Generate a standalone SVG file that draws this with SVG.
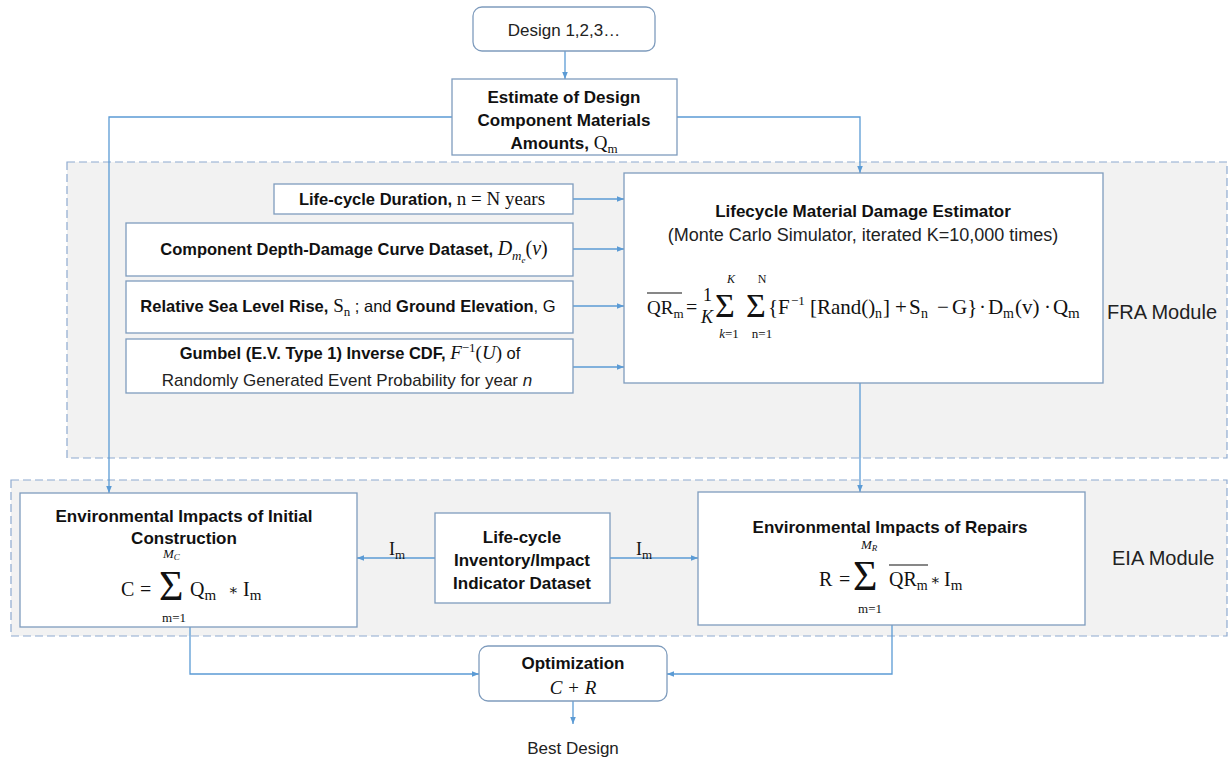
<svg xmlns="http://www.w3.org/2000/svg" width="1228" height="758" viewBox="0 0 1228 758">
<defs>
<marker id="ah" viewBox="0 0 10 10" refX="10" refY="5" markerWidth="7" markerHeight="7" orient="auto" markerUnits="userSpaceOnUse"><path d="M0,1 L10,5 L0,9 z" fill="#5b9bd5"/></marker>
</defs>
<style>
.region{fill:#f2f2f2;stroke:#8eaad0;stroke-width:1.2;stroke-dasharray:8 4}
.box{fill:#ffffff;stroke:#7f9cbd;stroke-width:1.3}
.con{fill:none;stroke:#5b9bd5;stroke-width:1.3;marker-end:url(#ah)}
.b{font-family:"Liberation Sans",Arial,sans-serif;font-weight:bold;fill:#111}
.r{font-family:"Liberation Sans",Arial,sans-serif;fill:#222}
.m{font-family:"Liberation Serif","Times New Roman","DejaVu Serif",serif;font-weight:normal;font-style:normal;fill:#111}
.mi{font-family:"Liberation Serif","Times New Roman",serif;font-style:italic;font-weight:normal;fill:#111}
.n{font-weight:normal}
.lbl{font-family:"Liberation Sans",Arial,sans-serif;fill:#222}
.c{text-anchor:middle}
</style>
<rect id="fra-region" class="region" x="67" y="162" width="1160" height="296"/>
<rect id="eia-region" class="region" x="11" y="480" width="1216" height="156"/>
<text class="lbl" x="1107" y="319" style="font-size:20px">FRA Module</text>
<text class="lbl" x="1112" y="565" style="font-size:20px">EIA Module</text>

<g id="connectors">
<path class="con" d="M565,51 V79"/>
<path class="con" d="M452,117 H109 V493"/>
<path class="con" d="M677,117 H860 V173"/>
<path class="con" d="M573,199 H624"/>
<path class="con" d="M573,249 H624"/>
<path class="con" d="M573,306 H624"/>
<path class="con" d="M573,367 H624"/>
<path class="con" d="M860,383 V492"/>
<path class="con" d="M435,558 H357"/>
<path class="con" d="M610,558 H698"/>
<path class="con" d="M190,627 V674 H479"/>
<path class="con" d="M892,625 V674 H667"/>
<path class="con" d="M573,701 V724"/>
<text class="m" x="389" y="555" style="font-size:18px">I<tspan dy="4" style="font-size:13px">m</tspan></text>
<text class="m" x="636" y="555" style="font-size:18px">I<tspan dy="4" style="font-size:13px">m</tspan></text>
</g>

<g id="design">
<rect class="box" x="473" y="7" width="182" height="44" rx="9"/>
<text class="r c" x="564" y="36" style="font-size:17px">Design 1,2,3…</text>
</g>

<g id="estimate">
<rect class="box" x="452" y="79" width="225" height="76"/>
<text class="b c" x="564" y="103" style="font-size:17px">Estimate of Design</text>
<text class="b c" x="564" y="126" style="font-size:17px">Component Materials</text>
<text class="b c" x="564" y="149" style="font-size:17px">Amounts,<tspan class="m" style="font-size:19px"> Q</tspan><tspan class="m" style="font-size:13px" dy="4">m</tspan></text>
</g>

<g id="duration">
<rect class="box" x="274" y="184" width="299" height="30"/>
<text class="b c" x="422" y="205" style="font-size:16.5px">Life-cycle Duration,<tspan class="m" style="font-size:19px"> n = N years</tspan></text>
</g>

<g id="depth-damage">
<rect class="box" x="126" y="223" width="447" height="53"/>
<text class="b c" x="354" y="255" style="font-size:16.5px">Component Depth-Damage Curve Dataset, <tspan class="mi" style="font-size:20px">D</tspan><tspan class="mi" style="font-size:13px" dy="5">m</tspan><tspan class="mi" style="font-size:9px" dy="3">e</tspan><tspan class="m" style="font-size:20px" dy="-8">(</tspan><tspan class="mi" style="font-size:20px">v</tspan><tspan class="m" style="font-size:20px">)</tspan></text>
</g>

<g id="sea-level">
<rect class="box" x="126" y="281" width="447" height="52"/>
<text class="b c" x="348" y="312" style="font-size:16.5px">Relative Sea Level Rise,<tspan class="m" style="font-size:19px"> S</tspan><tspan class="m" style="font-size:13px" dy="4">n</tspan><tspan class="n" dy="-4"> ; and </tspan>Ground Elevation<tspan class="n">, G</tspan></text>
</g>

<g id="gumbel">
<rect class="box" x="126" y="339" width="447" height="54"/>
<text class="b c" x="350" y="359" style="font-size:16.5px">Gumbel (E.V. Type 1) Inverse CDF, <tspan class="mi" style="font-size:19px">F</tspan><tspan class="m" style="font-size:13px" dy="-7">−1</tspan><tspan class="m" style="font-size:19px" dy="7">(</tspan><tspan class="mi" style="font-size:19px">U</tspan><tspan class="m" style="font-size:19px">)</tspan><tspan class="n">  of</tspan></text>
<text class="r c" x="347" y="386" style="font-size:17px">Randomly Generated Event Probability for year <tspan font-style="italic">n</tspan></text>
</g>

<g id="estimator">
<rect class="box" x="624" y="173" width="479" height="210"/>
<text class="b c" x="863" y="217" style="font-size:17px">Lifecycle Material Damage Estimator</text>
<text class="r c" x="863" y="241" style="font-size:18px">(Monte Carlo Simulator, iterated K=10,000 times)</text>
<line x1="647" y1="293" x2="682" y2="293" stroke="#111" stroke-width="1.2"/>
<text class="m" x="647" y="314" style="font-size:19px">QR<tspan style="font-size:13px" dy="4">m</tspan></text>
<text class="m" x="686" y="314" style="font-size:20px">=</text>
<text class="m" x="703" y="301" style="font-size:18px">1</text>
<text class="mi" x="701" y="323" style="font-size:18px">K</text>
<text class="m" x="715" y="317" style="font-size:34px">Σ</text>
<text class="mi c" x="731" y="283" style="font-size:12px">K</text>
<text class="m c" x="729" y="338" style="font-size:13px"><tspan font-style="italic">k</tspan>=1</text>
<text class="m" x="746" y="317" style="font-size:34px">Σ</text>
<text class="m c" x="762" y="283" style="font-size:12px">N</text>
<text class="m c" x="762" y="338" style="font-size:13px">n=1</text>
<text class="m" y="314" style="font-size:21px"><tspan x="768">{F</tspan><tspan x="791" dy="-9" style="font-size:13px">−1</tspan><tspan x="810" dy="9">[Rand()</tspan><tspan x="875" dy="4" style="font-size:14px">n</tspan><tspan x="883" dy="-4">]</tspan><tspan x="895">+</tspan><tspan x="909">S</tspan><tspan x="921" dy="4" style="font-size:14px">n</tspan><tspan x="937" dy="-4">−</tspan><tspan x="952">G}</tspan><tspan x="979">·</tspan><tspan x="988">D</tspan><tspan x="1003" dy="4" style="font-size:14px">m</tspan><tspan x="1015" dy="-4">(v)</tspan><tspan x="1044">·</tspan><tspan x="1053">Q</tspan><tspan x="1068" dy="4" style="font-size:15px">m</tspan></text>
</g>

<g id="initial-construction">
<rect class="box" x="20" y="493" width="337" height="134"/>
<text class="b c" x="184" y="522" style="font-size:17px">Environmental Impacts of Initial</text>
<text class="b c" x="184" y="544" style="font-size:17px">Construction</text>
<text class="m" x="121" y="596" style="font-size:20px">C</text>
<text class="m" x="140" y="596" style="font-size:20px">=</text>
<text class="m" x="159" y="600" style="font-size:42px">Σ</text>
<text class="mi" x="163" y="558" style="font-size:13px">M<tspan style="font-size:9px" dy="2">C</tspan></text>
<text class="m c" x="174" y="622" style="font-size:13px">m=1</text>
<text class="m" x="190" y="596" style="font-size:20px">Q<tspan style="font-size:15px" dy="4">m</tspan></text>
<text class="m" x="228" y="595" style="font-size:15px">∗</text>
<text class="m" x="243" y="596" style="font-size:20px">I<tspan style="font-size:15px" dy="4">m</tspan></text>
</g>

<g id="inventory">
<rect class="box" x="435" y="513" width="175" height="90"/>
<text class="b c" x="522" y="543" style="font-size:17px">Life-cycle</text>
<text class="b c" x="522" y="566" style="font-size:17px">Inventory/Impact</text>
<text class="b c" x="522" y="589" style="font-size:17px">Indicator Dataset</text>
</g>

<g id="repairs">
<rect class="box" x="698" y="492" width="387" height="133"/>
<text class="b c" x="890" y="533" style="font-size:17px">Environmental Impacts of Repairs</text>
<text class="m" x="819" y="586" style="font-size:20px">R</text>
<text class="m" x="839" y="586" style="font-size:20px">=</text>
<text class="m" x="853" y="590" style="font-size:42px">Σ</text>
<text class="mi" x="861" y="549" style="font-size:13px">M<tspan style="font-size:9px" dy="2">R</tspan></text>
<text class="m c" x="870" y="613" style="font-size:13px">m=1</text>
<line x1="889" y1="565" x2="928" y2="565" stroke="#111" stroke-width="1.2"/>
<text class="m" x="889" y="586" style="font-size:20px">QR<tspan style="font-size:14px" dy="4">m</tspan></text>
<text class="m" x="930" y="585" style="font-size:15px">∗</text>
<text class="m" x="944" y="586" style="font-size:20px">I<tspan style="font-size:15px" dy="4">m</tspan></text>
</g>

<g id="optimization">
<rect class="box" x="479" y="646" width="188" height="55" rx="9"/>
<text class="b c" x="573" y="669" style="font-size:17px">Optimization</text>
<text class="mi c" x="573" y="694" style="font-size:19px">C + R</text>
</g>

<g id="best-design">
<text class="r c" x="573" y="754" style="font-size:17px">Best Design</text>
</g>
</svg>
